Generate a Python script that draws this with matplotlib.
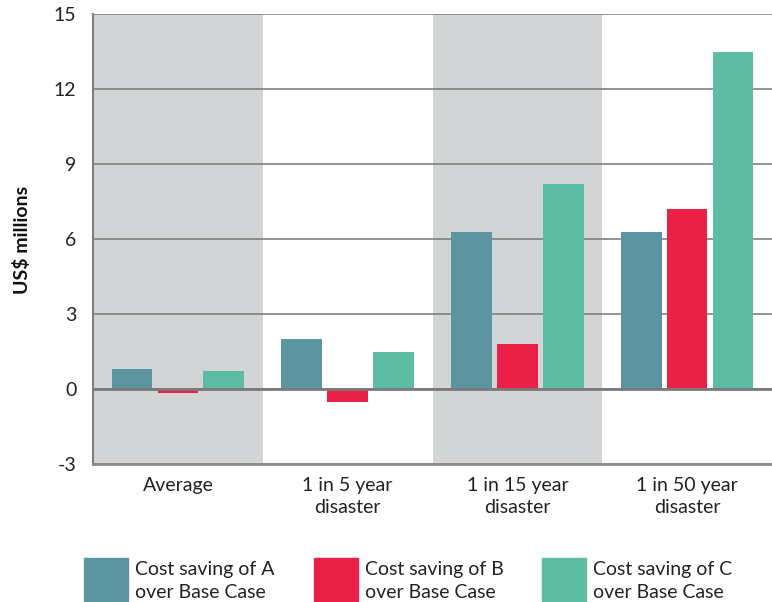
import matplotlib.pyplot as plt
from matplotlib.patches import Rectangle
import numpy as np

plt.rcParams['font.family'] = ['Lato', 'DejaVu Sans']

# Data (US$ millions)
categories = ['Average', '1 in 5 year\ndisaster', '1 in 15 year\ndisaster', '1 in 50 year\ndisaster']
saving_a = [0.8, 2.0, 6.3, 6.3]
saving_b = [-0.14, -0.5, 1.8, 7.2]
saving_c = [0.72, 1.5, 8.2, 13.5]
series_labels = ['Cost saving of A\nover Base Case',
                 'Cost saving of B\nover Base Case',
                 'Cost saving of C\nover Base Case']
colors = ['#5B95A0', '#EB2046', '#5CBCA4']
yticks = [-3, 0, 3, 6, 9, 12, 15]

fig = plt.figure(figsize=(7.72, 6.02), dpi=100)
ax = fig.add_axes([0.1205, 0.2292, 0.8795, 0.7475])

x = np.arange(len(categories)) + 0.5
width = 0.24
offsets = [-0.27, 0, 0.27]

# alternating gray bands
for i in range(len(categories)):
    if i % 2 == 0:
        ax.axvspan(i, i + 1, color='#D3D4D6', zorder=0, lw=0)

for vals, off, col in zip([saving_a, saving_b, saving_c], offsets, colors):
    ax.bar(x + off, vals, width=width, color=col, zorder=3)

ax.set_xlim(0, len(categories))
ax.set_ylim(-3, 15)
ax.set_yticks(yticks)
ax.set_yticklabels([str(t) for t in yticks], fontsize=14, color='#222222')
ax.yaxis.grid(True, color='#808080', lw=1.2, zorder=1)
ax.axhline(0, color='#7a7a7a', lw=2, zorder=4)
ax.tick_params(axis='y', length=0, pad=12)
ax.set_xticks(x)
ax.set_xticklabels(categories, fontsize=14, color='#222222', linespacing=1.4)
ax.tick_params(axis='x', length=0, pad=9)

for s in ['top', 'right']:
    ax.spines[s].set_visible(False)
ax.spines['left'].set_color('#808080')
ax.spines['left'].set_linewidth(1.5)
ax.spines['bottom'].set_color('#8c8c8c')
ax.spines['bottom'].set_linewidth(2)

fig.text(0.029, 0.601, 'US$ millions', rotation=90, ha='center', va='center',
         fontsize=14, fontweight='bold', color='#111111')

# legend
swatch_x = [84, 314, 542]
for sx, col, lab in zip(swatch_x, colors, series_labels):
    fig.patches.append(Rectangle((sx / 772, 1 - 601 / 602), 44 / 772, 43 / 602,
                                 transform=fig.transFigure, color=col))
    fig.text((sx + 51) / 772, 1 - 581 / 602, lab, ha='left', va='center',
             fontsize=14, color='#222222', linespacing=1.4)

fig.savefig('out.png', dpi=100)
